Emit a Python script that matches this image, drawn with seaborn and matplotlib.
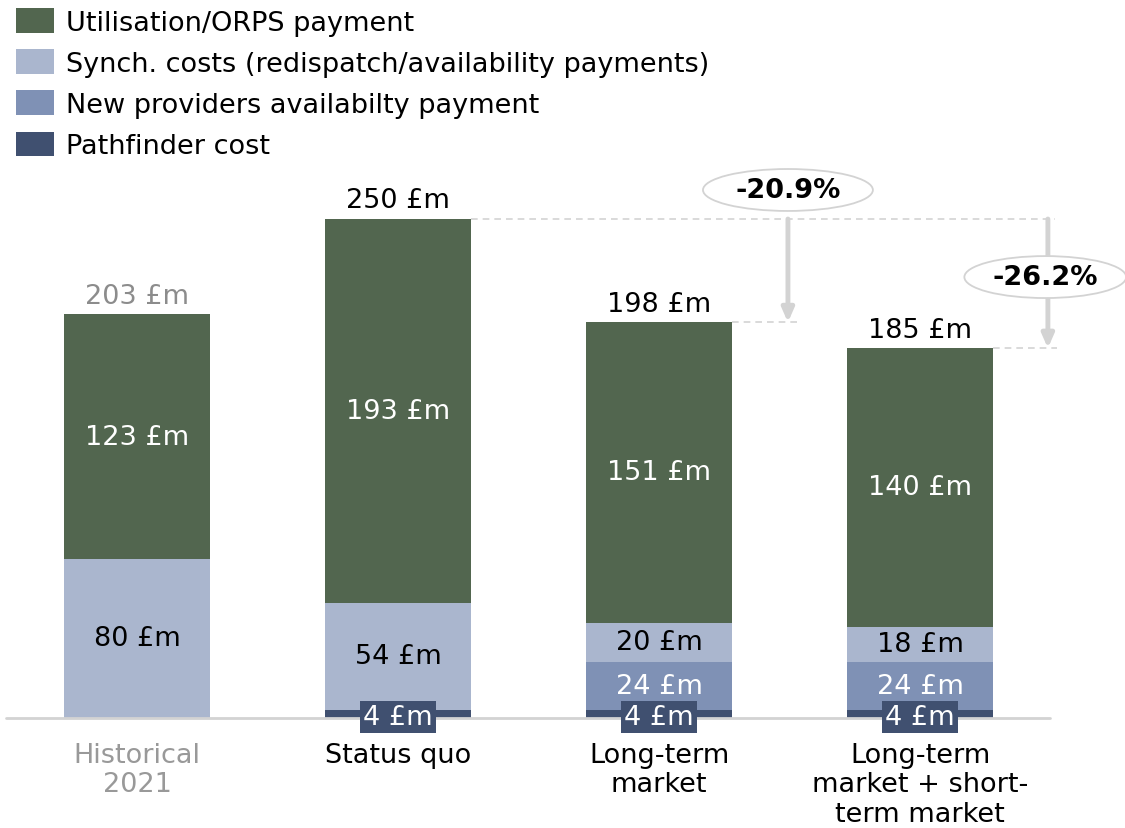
import matplotlib
matplotlib.use("Agg")
import matplotlib.pyplot as plt
from matplotlib.patches import Patch, Ellipse
import numpy as np
import pandas as pd
import seaborn as sns

# ---- data ----
categories = ["Historical\n2021", "Status quo", "Long-term\nmarket", "Long-term\nmarket + short-\nterm market"]
pathfinder = [0, 4, 4, 4]
new_providers = [0, 0, 24, 24]
synch_costs = [80, 54, 20, 18]
utilisation = [123, 193, 151, 140]
totals = [203, 250, 198, 185]
reductions = [-20.9, -26.2]

series_names = ["Utilisation/ORPS payment",
                "Synch. costs (redispatch/availability payments)",
                "New providers availabilty payment",
                "Pathfinder cost"]

# ---- style ----
C_UTIL = "#52664F"
C_SYNCH = "#AAB6CE"
C_NEW = "#7F91B5"
C_PF = "#405070"
C_GREY = "#D3D3D3"
FS = 19.5

sns.set_style("white")
plt.rcParams["font.family"] = ["DejaVu Sans"]
plt.rcParams["text.color"] = "black"
plt.rcParams["xtick.color"] = "black"

fig = plt.figure(figsize=(11.25, 8.29), dpi=100)
ax = fig.add_axes([0, 110 / 829, 1, 719 / 829])

# cumulative tops for the stacked layers
c_pf = np.array(pathfinder, dtype=float)
c_new = c_pf + np.array(new_providers)
c_syn = c_new + np.array(synch_costs)
c_util = c_syn + np.array(utilisation)

df = pd.DataFrame({"cat": categories, "util": c_util, "syn": c_syn,
                   "new": c_new, "pf": c_pf})
BW = 0.56
for col, colr in [("util", C_UTIL), ("syn", C_SYNCH), ("new", C_NEW), ("pf", C_PF)]:
    sns.barplot(data=df, x="cat", y=col, color=colr, saturation=1,
                width=BW, linewidth=0, ax=ax, order=categories)

ax.set_xlim(-137 / 261, (1125 - 137) / 261)
ax.set_ylim(0, 719 / 1.988)
for s in ax.spines.values():
    s.set_visible(False)
ax.set_yticks([])
ax.set_ylabel("")
ax.set_xlabel("")
ax.set_xticks(range(len(categories)))
ax.set_xticklabels(categories, fontsize=FS, linespacing=1.18)
ax.tick_params(axis="x", length=0, pad=17)
ax.get_xticklabels()[0].set_color("#999999")

# baseline
ax.plot([-0.502, 3.498], [0, 0], color=C_GREY, lw=2, zorder=1, clip_on=False)

# segment labels
x = np.arange(len(categories))
for i in x:
    ax.text(i, c_syn[i] + utilisation[i] / 2, f"{utilisation[i]} £m", color="white",
            ha="center", va="center", fontsize=FS)
    ax.text(i, c_new[i] + synch_costs[i] / 2, f"{synch_costs[i]} £m", color="black",
            ha="center", va="center", fontsize=FS)
    if new_providers[i]:
        ax.text(i, c_pf[i] + new_providers[i] / 2, f"{new_providers[i]} £m", color="white",
                ha="center", va="center", fontsize=FS)
    if pathfinder[i]:
        ax.text(i, 0.5, f"{pathfinder[i]} £m", color="white", ha="center", va="center",
                fontsize=FS, zorder=5,
                bbox=dict(boxstyle="square,pad=0.1", fc=C_PF, ec="none"))
    ax.annotate(f"{totals[i]} £m", (i, c_util[i]), xytext=(0, 4), textcoords="offset points",
                ha="center", va="bottom", fontsize=FS,
                color="#8C8C8C" if i == 0 else "black")

# reference lines and reduction arrows
ref = c_util[1]
ax.plot([1 + BW / 2, 3.517], [ref, ref], color=C_GREY, lw=1.2, ls=(0, (4, 3)), zorder=1)
arrow_x = [2.494, 3.490]
for k, (bi, ax_x) in enumerate(zip([2, 3], arrow_x)):
    ax.plot([bi + BW / 2, ax_x + 0.035], [c_util[bi], c_util[bi]], color=C_GREY, lw=1.2,
            ls=(0, (4, 3)), zorder=1)
    ax.annotate("", xy=(ax_x, c_util[bi]), xytext=(ax_x, ref),
                arrowprops=dict(arrowstyle="-|>,head_length=0.8,head_width=0.35",
                                color=C_GREY, lw=3.5, shrinkA=0, shrinkB=0), zorder=2)

ell_centers = [(2.494, 265.6), (3.480, 221.8)]
ell_widths = [0.651, 0.62]
for (ex, ey), ew, pct in zip(ell_centers, ell_widths, reductions):
    ax.add_patch(Ellipse((ex, ey), ew, 21.1, fc="white", ec=C_GREY, lw=1.3, zorder=3,
                         clip_on=False))
    ax.text(ex, ey, f"{pct:.1f}%", ha="center", va="center", fontsize=FS,
            fontweight="bold", zorder=4)

# legend
handles = [Patch(fc=c, ec="none") for c in [C_UTIL, C_SYNCH, C_NEW, C_PF]]
fig.legend(handles, series_names, loc="upper left", bbox_to_anchor=(16 / 1125, 1 - 9 / 829),
           frameon=False, fontsize=FS, handlelength=1.40, handleheight=1.03,
           handletextpad=0.44, labelspacing=0.5, borderpad=0, borderaxespad=0)

fig.savefig("out.png", dpi=100)
